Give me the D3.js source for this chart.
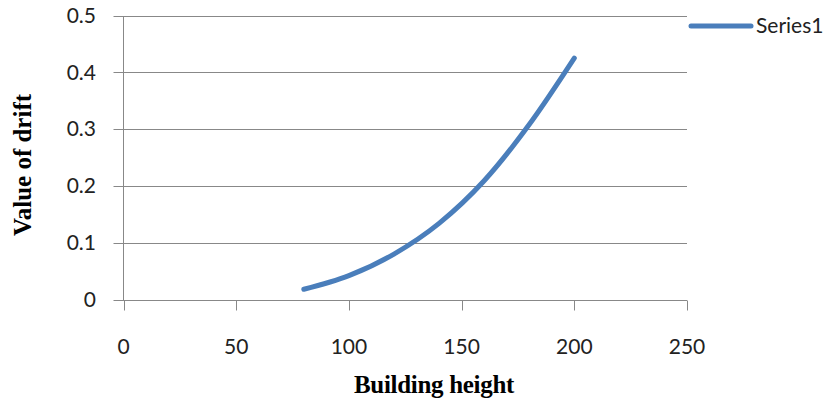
<!DOCTYPE html>
<html>
<head>
<meta charset="utf-8">
<script src="https://cdn.jsdelivr.net/npm/d3@7"></script>
<style>
  body { margin: 0; background: #fff; }
</style>
</head>
<body>
<div id="chart"></div>
<script>
// Data
const heights = [80, 100, 120, 140, 160, 180, 200];
const drift = [0.018, 0.042, 0.080, 0.134, 0.209, 0.308, 0.425];
const xTicks = [0, 50, 100, 150, 200, 250];
const yTicks = [0, 0.1, 0.2, 0.3, 0.4, 0.5];
const seriesName = "Series1";

const width = 839, height = 402;
const plot = { left: 123.5, right: 687, top: 15.5, bottom: 299.5 };

const svg = d3.select("#chart")
    .append("svg")
    .attr("width", width)
    .attr("height", height);

const xScale = d3.scaleLinear().domain([0, 250]).range([plot.left, plot.right]);
const yScale = d3.scaleLinear().domain([0, 0.5]).range([plot.bottom, plot.top]);

const gridColor = "#888888";
const tickFont = "Lato, 'Open Sans', sans-serif";

// horizontal gridlines (extend left as tick marks)
svg.append("g")
    .selectAll("line")
    .data(yTicks)
    .enter()
    .append("line")
    .attr("x1", plot.left - 10)
    .attr("x2", plot.right)
    .attr("y1", d => Math.round(yScale(d)) + 0.5)
    .attr("y2", d => Math.round(yScale(d)) + 0.5)
    .attr("stroke", gridColor)
    .attr("stroke-width", 1);

// y axis line
svg.append("line")
    .attr("x1", plot.left).attr("x2", plot.left)
    .attr("y1", Math.round(yScale(0.5)) + 0.5).attr("y2", Math.round(yScale(0)) + 0.5)
    .attr("stroke", gridColor);

// x tick marks
svg.append("g")
    .selectAll("line")
    .data(xTicks)
    .enter()
    .append("line")
    .attr("x1", d => Math.round(xScale(d)) + 0.5)
    .attr("x2", d => Math.round(xScale(d)) + 0.5)
    .attr("y1", Math.round(yScale(0)) + 0.5)
    .attr("y2", Math.round(yScale(0)) + 10.5)
    .attr("stroke", gridColor);

// y tick labels
svg.append("g")
    .selectAll("text")
    .data(yTicks)
    .enter()
    .append("text")
    .attr("x", 96)
    .attr("y", d => yScale(d))
    .attr("dy", "0.35em")
    .attr("text-anchor", "end")
    .style("font-family", tickFont)
    .style("font-size", "21px")
    .attr("fill", "#222")
    .text(d => d3.format("")(d));

// x tick labels
svg.append("g")
    .selectAll("text")
    .data(xTicks)
    .enter()
    .append("text")
    .attr("x", d => xScale(d))
    .attr("y", 354)
    .attr("text-anchor", "middle")
    .style("font-family", tickFont)
    .style("font-size", "21px")
    .attr("fill", "#222")
    .text(d => d);

// the curve
const line = d3.line()
    .x((d, i) => xScale(heights[i]))
    .y(d => yScale(d))
    .curve(d3.curveMonotoneX);

svg.append("path")
    .datum(drift)
    .attr("fill", "none")
    .attr("stroke", "#4a7ebb")
    .attr("stroke-width", 5)
    .attr("stroke-linecap", "round")
    .attr("d", line);

// axis titles
svg.append("text")
    .attr("x", 434)
    .attr("y", 393)
    .attr("text-anchor", "middle")
    .style("font-family", "'Liberation Serif', serif")
    .style("font-weight", "bold")
    .style("font-size", "25px")
    .style("letter-spacing", "-0.3px")
    .text("Building height");

svg.append("text")
    .attr("transform", "translate(31,165) rotate(-90)")
    .attr("text-anchor", "middle")
    .style("font-family", "'Liberation Serif', serif")
    .style("font-weight", "bold")
    .style("font-size", "25px")
    .text("Value of drift");

// legend
const legend = svg.append("g").attr("transform", "translate(691,26)");
legend.append("line")
    .attr("x1", 0).attr("x2", 60)
    .attr("stroke", "#4a7ebb")
    .attr("stroke-width", 5)
    .attr("stroke-linecap", "round");
legend.append("text")
    .attr("x", 65)
    .attr("dy", "0.35em")
    .style("font-family", tickFont)
    .style("font-size", "21px")
    .attr("fill", "#222")
    .text(seriesName);
</script>
</body>
</html>
